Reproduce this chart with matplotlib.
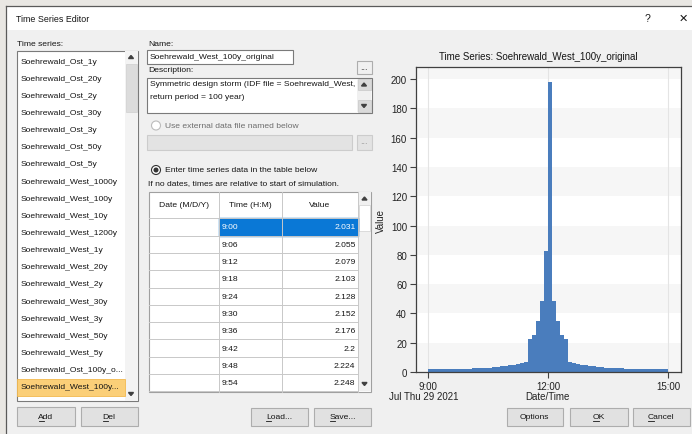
import numpy as np
import matplotlib
matplotlib.use('Agg')
import matplotlib.pyplot as plt
from matplotlib.patches import Rectangle, Circle, Polygon

#---------------------------------------------------------------------#
# Data                                        #
#---------------------------------------------------------------------#
seriesNames = ['Soehrewald_Ost_1y', 'Soehrewald_Ost_20y', 'Soehrewald_Ost_2y',
               'Soehrewald_Ost_30y', 'Soehrewald_Ost_3y', 'Soehrewald_Ost_50y',
               'Soehrewald_Ost_5y', 'Soehrewald_West_1000y', 'Soehrewald_West_100y',
               'Soehrewald_West_10y', 'Soehrewald_West_1200y', 'Soehrewald_West_1y',
               'Soehrewald_West_20y', 'Soehrewald_West_2y', 'Soehrewald_West_30y',
               'Soehrewald_West_3y', 'Soehrewald_West_50y', 'Soehrewald_West_5y',
               'Soehrewald_Ost_100y_o...', 'Soehrewald_West_100y...']
tableTimes  = ['9:00', '9:06', '9:12', '9:18', '9:24', '9:30', '9:36', '9:42', '9:48', '9:54']
tableValues = ['2.031', '2.055', '2.079', '2.103', '2.128', '2.152', '2.176', '2.2', '2.224', '2.248']

# rainfall values, one per 6 minute step from 9:00 to 15:00
rain = [2.031, 2.055, 2.079, 2.103, 2.128, 2.152, 2.176, 2.2, 2.224, 2.248,
        2.35, 2.45, 2.55, 2.65, 2.8, 3.0, 3.3, 3.6, 3.9, 4.3,
        4.7, 5.1, 5.5, 6.0, 6.5,
        22.5, 25.5, 34.5, 48.5, 82.5, 198.0, 48.5, 34.5, 25.5, 22.5,
        6.5, 6.0, 5.5, 5.1, 4.7, 4.3, 3.9, 3.6, 3.3, 3.0,
        2.8, 2.65, 2.55, 2.45, 2.35, 2.248, 2.224, 2.2, 2.176, 2.152,
        2.128, 2.103, 2.079, 2.055, 2.031]
startHour = 9.0
stepHour  = 0.1
xTicks      = [9, 12, 15]
xTickLabels = ['9:00', '12:00', '15:00']
yTicks      = [0, 20, 40, 60, 80, 100, 120, 140, 160, 180, 200]

W, H = 692, 435
UIFONT = ['Liberation Sans', 'DejaVu Sans']
FS = 6.1
CFS = 7.0
plt.rcParams['font.family'] = UIFONT

fig = plt.figure(figsize=(W / 100, H / 100), dpi=100, facecolor='#f0f0f0')
bg = fig.add_axes([0, 0, 1, 1], zorder=0)
bg.set_xlim(0, W)
bg.set_ylim(H, 0)
bg.axis('off')
underlined = []

def box(x0, y0, x1, y1, fc='white', ec='#7a7a7a', lw=0.8, z=1):
  bg.add_patch(Rectangle((x0, y0), x1 - x0, y1 - y0, facecolor=fc, edgecolor=ec, linewidth=lw, zorder=z))

def txt(x, y, s, ha='left', color='#151515', size=FS, z=5, family=UIFONT):
  return bg.text(x, y, s, ha=ha, va='center', color=color, fontsize=size, zorder=z, family=family)

def button(x0, y0, x1, y1, label, mnemonic=False):
  box(x0, y0, x1, y1, fc='#e1e1e1', ec='#adadad')
  t = txt((x0 + x1) / 2, (y0 + y1) / 2, label, ha='center')
  if mnemonic:
    underlined.append(t)

def arrow(cx, cy, up=True):
  d = -1 if up else 1
  bg.add_patch(Polygon([(cx - 2.5, cy - d * 1.5), (cx + 2.5, cy - d * 1.5), (cx, cy + d * 1.5)],
                       closed=True, color='#404040', zorder=6))

#---------------------------------------------------------------------#
# Window frame and title bar                                          #
#---------------------------------------------------------------------#
bg.add_patch(Rectangle((0, 0), W, 6, color='#e9e7e3', zorder=1))
bg.add_patch(Rectangle((0, 0), 5, H, color='#e9e7e3', zorder=1))
bg.add_patch(Rectangle((5.5, 6.5), W, 24.5, facecolor='white', edgecolor='none', zorder=1))
bg.plot([5.5, W], [6.5, 6.5], color='#5a5a5a', lw=0.9, zorder=2)
bg.plot([5.5, 5.5], [6.5, H], color='#5a5a5a', lw=0.9, zorder=2)
txt(16, 19, 'Time Series Editor', size=6.4)
txt(647, 19, '?', ha='center', size=7.5)
txt(683, 19, '\u2715', ha='center', size=8, family=['DejaVu Sans'])

#---------------------------------------------------------------------#
# Left list of time series                                            #
#---------------------------------------------------------------------#
txt(17, 45, 'Time series:')
box(16.5, 51.5, 137.5, 402)
box(125, 52, 137.5, 401.5, fc='#f3f3f3', ec='none')
box(125.5, 65, 137, 113, fc='#dcdcdc', ec='#d0d0d0', lw=0.5)
arrow(131, 58, up=True)
arrow(131, 395, up=False)
bg.add_patch(Rectangle((17, 379.5), 107.5, 17, facecolor='#fbcf78', edgecolor='#f3b94f', lw=0.6, zorder=2))
for i, name in enumerate(seriesNames):
  txt(21, 62 + 17.15 * i, name)
button(17, 408, 75, 427, 'Add', mnemonic=True)
button(80.5, 408, 137.5, 427, 'Del', mnemonic=True)

#---------------------------------------------------------------------#
# Middle: name, description, radio buttons, data table                #
#---------------------------------------------------------------------#
txt(148, 45, 'Name:')
box(147, 50.5, 293, 64.5)
txt(150, 57.5, 'Soehrewald_West_100y_original')
box(356.5, 61.5, 371.5, 75, fc='#f0f0f0', ec='#adadad')
txt(364, 67, '...', ha='center', size=6.5, color='#505050')
txt(148, 70.5, 'Description:')
box(147, 79, 371.5, 113.5)
box(357, 79.5, 371, 113, fc='#f0f0f0', ec='none')
box(357.5, 80, 370.5, 91, fc='#dadada', ec='#c8c8c8', lw=0.5)
box(357.5, 101, 370.5, 112.5, fc='#dadada', ec='#c8c8c8', lw=0.5)
arrow(364, 85.5, up=True)
arrow(364, 107, up=False)
txt(150, 85, 'Symmetric design storm (IDF file = Soehrewald_West,')
txt(150, 97.5, 'return period = 100 year)')

bg.add_patch(Circle((156, 126.5), 4.5, facecolor='white', edgecolor='#bcbcbc', lw=0.8, zorder=3))
txt(165, 126.5, 'Use external data file named below', color='#6d6d6d')
box(147, 136, 352, 151, fc='#e3e3e3', ec='#cccccc')
box(356.5, 136, 371.5, 151, fc='#e3e3e3', ec='#cccccc')
txt(364, 142, '...', ha='center', size=6.5, color='#a0a0a0')

bg.add_patch(Circle((156, 171), 4.5, facecolor='white', edgecolor='#333333', lw=0.8, zorder=3))
bg.add_patch(Circle((156, 171), 1.8, color='#333333', zorder=4))
txt(165, 171, 'Enter time series data in the table below')
txt(148, 184, 'If no dates, times are relative to start of simulation.')

colX = [148.5, 219, 281.5, 358]
tTop, hBot, rowH = 192.5, 219.3, 17.3
box(148.5, tTop, 371, 392.5, fc='white', ec='#a0a0a0')
headers = ['Date (M/D/Y)', 'Time (H:M)', 'Value']
for j in range(3):
  txt((colX[j] + colX[j + 1]) / 2, (tTop + hBot) / 2, headers[j], ha='center')
bg.add_patch(Rectangle((219, hBot), 139, rowH, color='#0a78d6', zorder=2))
for i in range(len(tableTimes)):
  cy = hBot + rowH * (i + 0.5)
  c = 'white' if i == 0 else '#151515'
  txt(221.5, cy, tableTimes[i], color=c)
  txt(355.5, cy, tableValues[i], ha='right', color=c)
  bg.plot([148.5, 358], [hBot + rowH * (i + 1), hBot + rowH * (i + 1)], color='#c8c8c8', lw=0.7, zorder=3)
bg.plot([148.5, 358], [hBot, hBot], color='#c8c8c8', lw=0.7, zorder=3)
for x in colX[1:]:
  bg.plot([x, x], [tTop, 392.5], color='#c8c8c8', lw=0.7, zorder=3)
box(358.5, tTop + 0.5, 370.5, 392, fc='#f0f0f0', ec='none')
box(359, 206, 370, 232, fc='white', ec='#cfcfcf', lw=0.5)
arrow(364.5, 199.5, up=True)
arrow(364.5, 385, up=False)

button(250.5, 409, 308, 427, 'Load...', mnemonic=True)
button(314, 409, 371, 427, 'Save...', mnemonic=True)
button(506.5, 409, 562.5, 427, 'Options')
button(570, 409, 627.5, 427, 'OK', mnemonic=True)
button(632.5, 409, 690, 427, 'Cancel', mnemonic=True)

#---------------------------------------------------------------------#
# Right: the time series chart                                        #
#---------------------------------------------------------------------#
L, R, T, B = 416, 680.5, 68, 373
ax = fig.add_axes([L / W, 1 - B / H, (R - L) / W, (B - T) / H], zorder=2)
ax.set_facecolor('white')
edges = [startHour + stepHour * i for i in range(len(rain) + 1)]
ax.set_xlim(8.69, 15.31)
ax.set_ylim(0, 208.2)
for y0 in range(0, 220, 40):
  ax.axhspan(y0, y0 + 20, color='#f6f6f6', zorder=0, lw=0)
for x in xTicks:
  ax.axvline(x, color='#e4e4e4', lw=0.8, zorder=0.5)
ax.stairs(rain, edges, fill=True, color='#4a7dbd', zorder=2)
ax.set_xticks(xTicks)
ax.set_xticklabels(xTickLabels)
ax.set_yticks(yTicks)
ax.tick_params(direction='out', length=4.5, width=0.8, color='#404040', labelcolor='#222222',
               labelsize=CFS, pad=2)
for s in ax.spines.values():
  s.set_color('#404040')
  s.set_linewidth(0.9)

txt(538, 56.5, 'Time Series: Soehrewald_West_100y_original', ha='center', size=CFS)
bg.text(381, 221, 'Value', rotation=90, ha='center', va='center', fontsize=CFS, color='#222222')
txt(424, 397, 'Jul Thu 29 2021', ha='center', size=CFS, color='#222222')
txt(547, 397, 'Date/Time', ha='center', size=CFS, color='#222222')

#---------------------------------------------------------------------#
# Underline the first letter of the button labels (keyboard hints)    #
#---------------------------------------------------------------------#
fig.canvas.draw()
renderer = fig.canvas.get_renderer()
inv = bg.transData.inverted()
for t in underlined:
  bb = t.get_window_extent(renderer)
  probe = bg.text(0, 0, t.get_text()[0], fontsize=t.get_fontsize(), family=UIFONT)
  cw = probe.get_window_extent(renderer).width
  probe.remove()
  (x0, _), (x1, _) = inv.transform([(bb.x0, 0), (bb.x0 + cw, 0)])
  cy = t.get_position()[1]
  bg.plot([x0 + 0.3, x1 - 0.3], [cy + 4.3, cy + 4.3], color='#151515', lw=0.6, zorder=6)

plt.savefig('out.png', dpi=100, facecolor=fig.get_facecolor())
